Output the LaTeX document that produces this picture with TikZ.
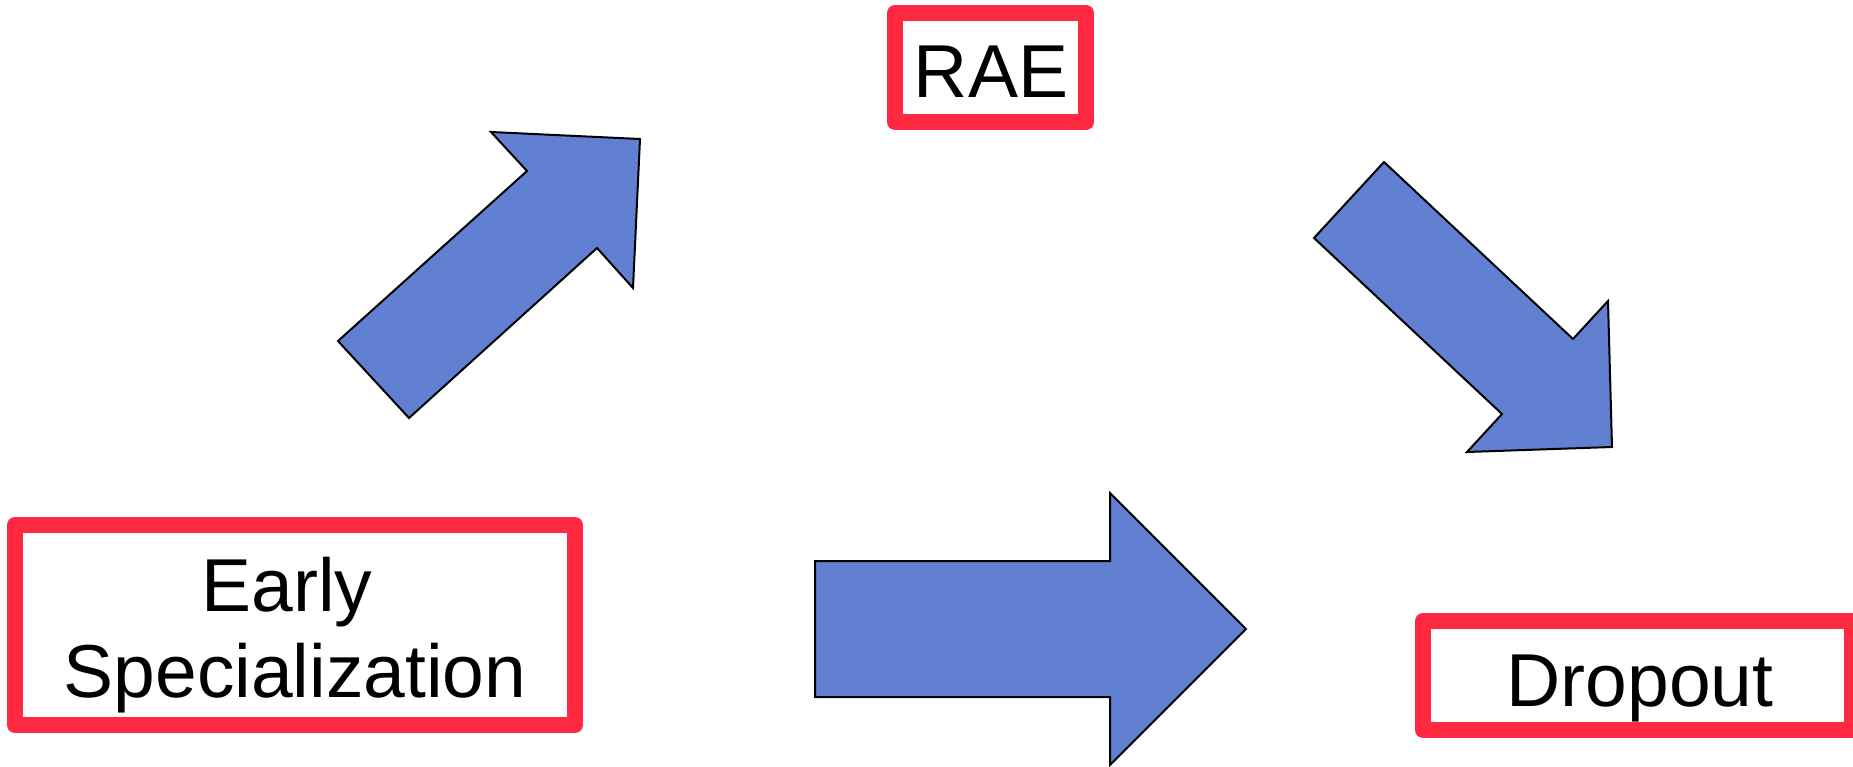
\documentclass[tikz,border=0pt]{standalone}
\usepackage{fontspec}
\setmainfont{Liberation Sans}
\definecolor{boxred}{RGB}{255,41,66}
\definecolor{arrowblue}{RGB}{98,128,210}
\begin{document}
\begin{tikzpicture}[x=1pt,y=-1pt,
  redbox/.style={draw=boxred, line width=16pt, line join=round, fill=white,
    rectangle, inner sep=0pt},
  caption/.style={anchor=base, inner sep=0pt, font=\fontsize{75}{86}\selectfont},
  blockarrow/.style={draw=black, line width=2pt, line join=miter, fill=arrowblue}]
\useasboundingbox (0,0) rectangle (1853,766);

% framed boxes
\node[redbox, minimum width=560pt, minimum height=200pt] (early) at (295,625) {};
\node[redbox, minimum width=191pt, minimum height=109pt] (rae) at (990.5,67.5) {};
\node[redbox, minimum width=429pt, minimum height=109pt] (drop) at (1637.5,675.5) {};

% box texts
\node[caption] (earlyA) at (287,611) {Early};
\node[caption] (earlyB) at (295,697) {Specialization};
\node[caption] (raeT) at (991,97) {RAE};
\node[caption] (dropT) at (1640,706) {Dropout};

% block arrows
\draw[blockarrow] (338,341) -- (527,171) -- (491,132) -- (640,139)
  -- (633,288) -- (597,248) -- (409,418) -- cycle;
\draw[blockarrow] (1384,162) -- (1573,339) -- (1608,301) -- (1612,447)
  -- (1467,452) -- (1502,414) -- (1314,238) -- cycle;
\draw[blockarrow] (815,561) -- (1110,561) -- (1110,493) -- (1246,629)
  -- (1110,765) -- (1110,697) -- (815,697) -- cycle;
\end{tikzpicture}
\end{document}
